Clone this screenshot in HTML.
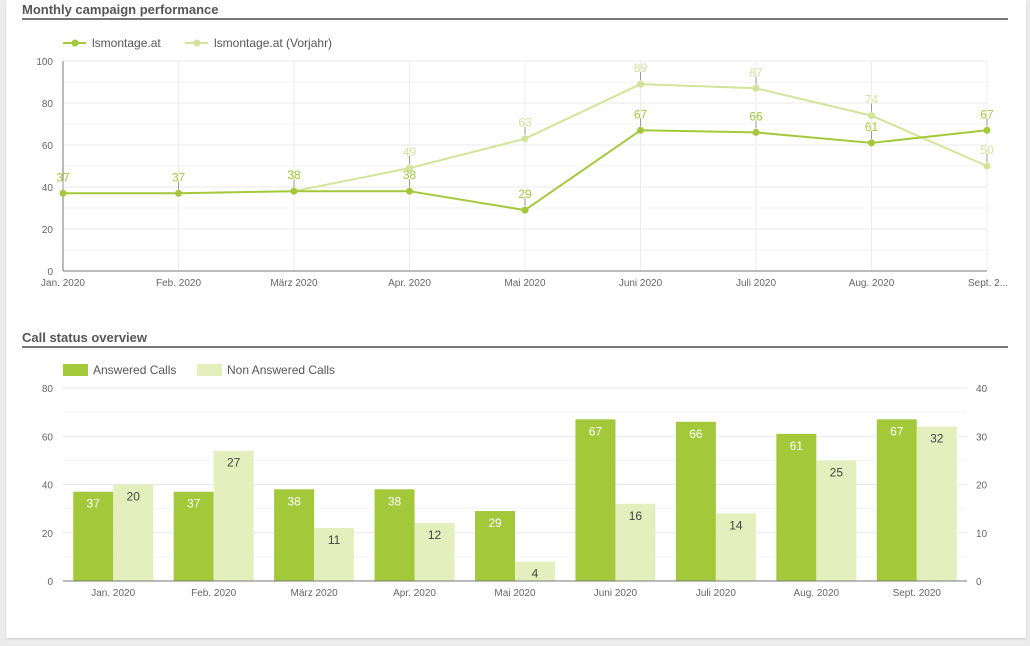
<!DOCTYPE html>
<html><head><meta charset="utf-8"><style>
body{margin:0;width:1030px;height:646px;background:#ececec;font-family:"Liberation Sans",sans-serif;overflow:hidden}
#card{position:absolute;left:6px;top:0;width:1020px;height:638px;background:#fff;box-shadow:0 1px 2px #ccc}
svg{position:absolute;left:0;top:0}
</style></head><body>
<div id="card"></div>
<svg id="s" width="1030" height="646"></svg>
<script>
const months=["Jan. 2020","Feb. 2020","März 2020","Apr. 2020","Mai 2020","Juni 2020","Juli 2020","Aug. 2020","Sept. 2020"];
const lineCurrent=[37,37,38,38,29,67,66,61,67];
const linePrev=[null,null,38,49,63,89,87,74,50];
const lineTicks=[0,20,40,60,80,100];
const answered=[37,37,38,38,29,67,66,61,67];
const nonAnswered=[20,27,11,12,4,16,14,25,32];
const barLeftTicks=[0,20,40,60,80];
const barRightTicks=[0,10,20,30,40];
const G="#a3c93a",L="#e4efbd",LT="#d2e49a";
const s=document.getElementById('s');const NS="http://www.w3.org/2000/svg";
function el(t,a,txt){const e=document.createElementNS(NS,t);for(const k in a)e.setAttribute(k,a[k]);if(txt!=null)e.textContent=txt;s.appendChild(e);return e;}
// titles
let e=el('text',{x:22,y:14,'font-size':13,'font-weight':'bold',fill:'#555'},"Monthly campaign performance");

e=el('rect',{x:22,y:18,width:986,height:2,fill:'#777'});

e=el('text',{x:22,y:342,'font-size':13,'font-weight':'bold',fill:'#555'},"Call status overview");

e=el('rect',{x:22,y:346,width:986,height:2,fill:'#777'});

// LINE CHART
const lx0=63,lx1=987,ly0=271,ly1=61;
const lx=i=>lx0+i*(lx1-lx0)/(months.length-1);
const ly=v=>ly0-(v/100)*(ly0-ly1);
for(let v=0;v<=100;v+=10){e=el('line',{x1:lx0,x2:lx1,y1:ly(v),y2:ly(v),stroke:v%20?'#f3f3f3':'#e8e8e8'});
}
months.forEach((m,i)=>{e=el('line',{x1:lx(i),x2:lx(i),y1:ly1,y2:ly0,stroke:'#ececec'});

e=el('text',{x:lx(i),y:286,'font-size':10,fill:'#666','text-anchor':i==8?'start':'middle'},i==8?"Sept. 2...":m);
if(i==8)e.setAttribute('x',lx(i)-19);
});
lineTicks.forEach(v=>{e=el('text',{x:53,y:ly(v)+4,'font-size':10,fill:'#666','text-anchor':'end'},v);
});
e=el('line',{x1:lx0,x2:lx0,y1:ly1,y2:ly0,stroke:'#777'});
e=el('line',{x1:lx0,x2:lx1,y1:ly0,y2:ly0,stroke:'#777'});
function series(data,col,name,lab){let d="";data.forEach((v,i)=>{if(v==null)return;d+=(d?"L":"M")+lx(i)+","+ly(v);});
e=el('path',{d:d,fill:'none',stroke:col,'stroke-width':2});
data.forEach((v,i)=>{if(v==null)return;
e=el('line',{x1:lx(i),x2:lx(i),y1:ly(v)-12,y2:ly(v)-4,stroke:'#999'});
e=el('circle',{cx:lx(i),cy:ly(v),r:3.5,fill:col});
e=el('text',{x:lx(i),y:ly(v)-12,'font-size':12,fill:lab,'text-anchor':'middle'},v);});}
series(linePrev,LT,'vorjahr',LT);
series(lineCurrent,G,'current',G);
// line legend
e=el('line',{x1:63,x2:86,y1:43,y2:43,stroke:G,'stroke-width':2});
e=el('circle',{cx:75,cy:43,r:3.5,fill:G});
e=el('text',{x:92,y:47,'font-size':12,fill:'#555'},"lsmontage.at");
e=el('line',{x1:185,x2:208,y1:43,y2:43,stroke:LT,'stroke-width':2});
e=el('circle',{cx:197,cy:43,r:3.5,fill:LT});
e=el('text',{x:214,y:47,'font-size':12,fill:'#555'},"lsmontage.at (Vorjahr)");
// BAR CHART
const bx0=63,bx1=967,by0=581,by1=388;
const step=(bx1-bx0)/months.length;
const byL=v=>by0-(v/80)*(by0-by1);
const byR=v=>by0-(v/40)*(by0-by1);
for(let v=0;v<=80;v+=10){e=el('line',{x1:bx0,x2:bx1,y1:byL(v),y2:byL(v),stroke:v%20?'#f3f3f3':'#e8e8e8'});
}
barLeftTicks.forEach(v=>{e=el('text',{x:53,y:byL(v)+4,'font-size':10,fill:'#666','text-anchor':'end'},v);
});
barRightTicks.forEach(v=>{e=el('text',{x:976,y:byR(v)+4,'font-size':10,fill:'#666'},v);
});
months.forEach((m,i)=>{const c=bx0+step*(i+0.5);
let h=by0-byL(answered[i]);
e=el('rect',{x:c-40,y:byL(answered[i]),width:40,height:h,fill:G});
e=el('text',{x:c-20,y:byL(answered[i])+16,'font-size':12,fill:'#fff','text-anchor':'middle'},answered[i]);
e=el('rect',{x:c,y:byR(nonAnswered[i]),width:40,height:by0-byR(nonAnswered[i]),fill:L});
e=el('text',{x:c+20,y:byR(nonAnswered[i])+16,'font-size':12,fill:'#444','text-anchor':'middle'},nonAnswered[i]);
e=el('text',{x:c,y:596,'font-size':10,fill:'#666','text-anchor':'middle'},m);});
e=el('line',{x1:bx0,x2:bx1,y1:by0,y2:by0,stroke:'#777'});
// bar legend
e=el('rect',{x:63,y:364,width:25,height:12,fill:G});
e=el('text',{x:93,y:374,'font-size':12,fill:'#555'},"Answered Calls");
e=el('rect',{x:197,y:364,width:25,height:12,fill:L});
e=el('text',{x:227,y:374,'font-size':12,fill:'#555'},"Non Answered Calls");
</script>
</body></html>
